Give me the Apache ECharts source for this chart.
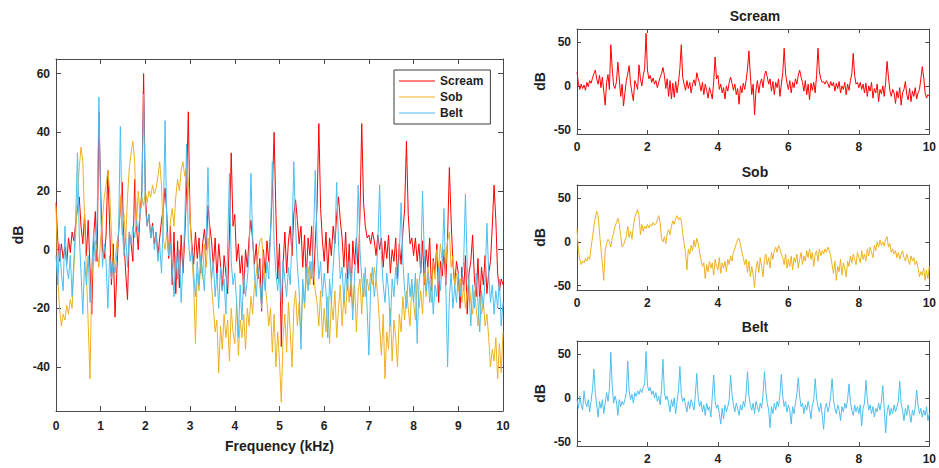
<!DOCTYPE html>
<html>
<head>
<meta charset="utf-8">
<script src="https://cdn.jsdelivr.net/npm/echarts@6/dist/echarts.min.js"></script>
<style>
html,body{margin:0;padding:0;background:#ffffff;}
#chart{width:939px;height:468px;}
</style>
</head>
<body>
<div id="chart"></div>
<script>
// Frequency grid (kHz), one sample every 0.04 kHz from 0 to 10
const freqKHz = Array.from({length: 251}, (_, i) => +(i * 0.04).toFixed(2));

// Spectra in dB (one row per kHz)
const scream = [
  16,3,-4,2,-3, 1,-5,4,-1,6, 3,9,14,18,8, 2,12,-2,10,-6, -22,4,13,-4,47,
  20,0,-3,5,27, 8,-12,2,-23,-8, 6,14,23,3,-8, -17,6,2,-4,24, 8,0,12,20,60,
  18,8,12,4,9, 2,6,-2,4,10, 14,21,12,-3,8, -12,6,-15,3,-13, 5,-8,4,20,47,
  10,2,-5,6,-3, 4,-8,2,7,0, 15,8,3,-6,4, -10,2,-5,-14,-2, -8,-15,5,33,8,
  12,-4,2,-8,-2, -15,0,-6,4,10, 3,-5,2,-10,-3, -21,0,-8,3,-4, 6,20,40,12,-10,
  2,-33,-5,6,-8, 3,8,-2,12,17, 10,2,8,-6,5, -10,4,-2,8,-12, 2,15,43,14,3,
  -4,6,-8,4,-2, 8,2,12,18,10, 4,-6,6,-10,2, -16,3,-5,4,-8, 12,43,16,8,4,
  5,2,6,3,-2, 5,0,4,-6,3, -3,5,-8,0,-4, 4,-10,2,-5,6, 14,37,12,2,4,
  -2,4,-4,2,-8, 3,-12,0,-6,4, -14,-3,-8,2,-18, -4,-9,0,-12,4, 28,10,-5,-12,-4,
  -8,-20,-6,-14,-2, -22,-8,-4,5,-10, -16,-3,-18,-6,-12, -2,-15,-8,-4,8, 22,10,-8,-14,-10, -12
];
const sob = [
  15,-10,-20,-26,-22, -24,-19,-22,-17,-20, -6,5,18,28,35, 30,10,-8,-25,-44, -10,-2,3,0,-6,
  4,10,18,22,27, 20,6,-6,-4,2, 6,18,5,12,3, 18,28,33,37,30, 8,20,12,18,15,
  20,16,20,18,22, 19,21,25,30,22, 4,0,6,-2,10, 14,8,18,24,20, 27,30,25,28,24,
  10,-2,-12,-32,-8, -14,-4,-10,2,-6, 4,-2,-12,-20,-28, -24,-42,-26,-34,-22, -30,-24,-38,-20,-28,
  -32,-18,-36,-24,-30, -22,-34,-20,-26,-16, -22,-12,-8,-2,3, 4,-3,-12,-18,-26, -20,-35,-22,-40,-28,
  -38,-52,-30,-22,-35, -18,-28,-40,-20,-14, -26,-18,-30,-12,-20, -10,-6,-12,-4,-8, -14,-18,-26,-14,-30,
  -20,-28,-16,-32,-18, -24,-14,-30,-20,-12, -26,-16,-22,-10,-18, -8,-20,-12,-28,-14, -10,-22,-8,-16,-10,
  -14,-8,-12,-6,-10, -16,-26,-36,-22,-44, -28,-34,-20,-38,-24, -30,-40,-22,-28,-16, -24,-14,-20,-26,-12,
  -18,-24,-10,-20,-14, -22,-8,-16,-6,-12, -18,-4,-10,0,-6, 2,-4,0,-5,3, 6,-6,-2,-12,-8,
  -14,-10,-18,-12,-20, -14,-10,-18,-22,-14, -20,-26,-16,-22,-18, -26,-22,-30,-40,-34, -38,-30,-44,-32,-42, -28
];
const belt = [
  -2,-12,2,-8,-14, 8,-6,-10,-2,-16, -4,10,33,5,-8, -22,-4,-12,-2,-18, -6,6,-4,10,52,
  14,-6,2,-4,-20, -2,-10,-4,-8,-2, 6,42,8,-2,4, -6,6,2,8,4, 10,6,12,16,53,
  14,8,12,4,8, 0,6,-4,2,-8, 10,44,6,-2,2, -6,-16,-2,-10,0, -18,-4,8,36,4,
  -4,0,-8,-16,-4, -12,-2,-8,-14,4, 28,0,-10,-4,-16, -8,-20,-6,-14,-10, -22,2,26,-4,-12,
  -8,-18,-30,-12,-24, -8,-16,-10,-2,26, 4,-8,-16,-6,-12, -20,-8,-14,-4,-10, 6,30,2,-8,-14,
  -6,-18,-4,-10,-16, -6,-12,4,30,8, -6,-14,-34,-10,-18, -6,-14,-4,-10,4, 27,2,-10,-4,-16,
  -8,-14,-30,-10,-18, -6,4,23,2,-10, -6,-18,-8,-14,-4, -12,-24,-8,-2,22, 0,-10,-16,-6,-20,
  -36,-12,-6,-16,-10, 2,22,-2,-12,-18, -8,-14,-26,-10,-16, -6,-12,-2,16,-4, -14,-20,-8,-16,-10,
  -18,-8,-32,-12,-6, 20,-2,-14,-8,-18, -10,-22,-12,-16,-6, -14,-4,14,-12,-40, -16,-8,-20,-12,-18,
  -8,-16,-10,-4,19, -6,-14,-26,-12,-20, -8,-18,-28,-14,-20, -10,9,-8,-18,-12, -22,-14,-20,-10,-26, -18
];

const seriesNames = ['Scream', 'Sob', 'Belt'];
const mainXTicks = [0,1,2,3,4,5,6,7,8,9,10];
const mainYTicks = [-40,-20,0,20,40,60];
const smallXTicks = [0,2,4,6,8,10];
const beltXLabels = [2,4,6,8,10];
const smallYTicks = [-50,0,50];
const yRange = [-55, 65];

const COLORS = ['#ff0000', '#edb120', '#4dbeee'];
const AX = '#4a4a4a';
const TXT = '#1e1e1e';
const FONT = '"Liberation Sans", Arial, sans-serif';
const lbl = {color: TXT, fontWeight: 'bold', fontSize: 12, fontFamily: FONT};
const nameStyle = {color: TXT, fontWeight: 'bold', fontSize: 14, fontFamily: FONT};

function xPair(g, ticks, labels, tickLen, margin, name) {
  const line = {show: true, onZero: false, lineStyle: {color: AX, width: 1}};
  const tick = {show: true, inside: true, length: tickLen, customValues: ticks, lineStyle: {color: AX, width: 1}};
  return [
    {type: 'value', gridIndex: g, min: 0, max: 10, position: 'bottom',
     axisLine: line, axisTick: tick,
     axisLabel: Object.assign({show: true, margin: margin, customValues: labels}, lbl),
     splitLine: {show: false},
     name: name || '', nameLocation: 'middle', nameGap: 28, nameTextStyle: nameStyle},
    {type: 'value', gridIndex: g, min: 0, max: 10, position: 'top',
     axisLine: line, axisTick: tick, axisLabel: {show: false}, splitLine: {show: false}}
  ];
}
function yPair(g, ticks, tickLen, nameGap) {
  const line = {show: true, onZero: false, lineStyle: {color: AX, width: 1}};
  const tick = {show: true, inside: true, length: tickLen, customValues: ticks, lineStyle: {color: AX, width: 1}};
  return [
    {type: 'value', gridIndex: g, min: yRange[0], max: yRange[1], position: 'left',
     axisLine: line, axisTick: tick,
     axisLabel: Object.assign({show: true, margin: 6, customValues: ticks}, lbl),
     splitLine: {show: false},
     name: 'dB', nameLocation: 'middle', nameGap: nameGap, nameTextStyle: nameStyle},
    {type: 'value', gridIndex: g, min: yRange[0], max: yRange[1], position: 'right',
     axisLine: line, axisTick: tick, axisLabel: {show: false}, splitLine: {show: false}}
  ];
}

const pairs = arr => freqKHz.map((f, i) => [f, arr[i]]);
const allData = [scream, sob, belt];

const grids = [
  {left: 56, top: 59, width: 447, height: 352},
  {left: 577, top: 29, width: 355, height: 105},
  {left: 577, top: 185, width: 355, height: 105},
  {left: 577, top: 341, width: 355, height: 105}
];

const xAxes = [].concat(
  xPair(0, mainXTicks, mainXTicks, 5, 9, 'Frequency (kHz)'),
  xPair(1, smallXTicks, smallXTicks, 4, 7),
  xPair(2, smallXTicks, smallXTicks, 4, 7),
  xPair(3, smallXTicks, beltXLabels, 4, 7)
);
const yAxes = [].concat(
  yPair(0, mainYTicks, 5, 31),
  yPair(1, smallYTicks, 4, 30),
  yPair(2, smallYTicks, 4, 30),
  yPair(3, smallYTicks, 4, 30)
);

const series = [];
seriesNames.forEach((n, k) => {
  series.push({type: 'line', name: n, xAxisIndex: 0, yAxisIndex: 0, data: pairs(allData[k]),
    symbol: 'none', lineStyle: {width: 1, color: COLORS[k]}, itemStyle: {color: COLORS[k]},
    silent: true, animation: false});
});
seriesNames.forEach((n, k) => {
  series.push({type: 'line', name: n, xAxisIndex: 2 * (k + 1), yAxisIndex: 2 * (k + 1), data: pairs(allData[k]),
    symbol: 'none', lineStyle: {width: 1, color: COLORS[k]}, itemStyle: {color: COLORS[k]},
    silent: true, animation: false});
});

const titleTops = [9, 165, 320];
const option = {
  backgroundColor: '#ffffff',
  animation: false,
  title: seriesNames.map((n, k) => ({
    text: n, left: 755, top: titleTops[k], textAlign: 'center', padding: 0,
    textStyle: nameStyle
  })),
  legend: {
    data: seriesNames, orient: 'vertical', left: 394, top: 70,
    icon: 'path://M0,0H36V1.2H0Z', symbolKeepAspect: true,
    itemWidth: 36, itemHeight: 14, itemGap: 4, itemTextGap: 6,
    padding: [5, 7, 5, 5], borderColor: '#3a3a3a', borderWidth: 1, borderRadius: 0,
    backgroundColor: '#ffffff', textStyle: lbl, selectedMode: false
  },
  grid: grids,
  xAxis: xAxes,
  yAxis: yAxes,
  series: series
};

const chart = echarts.init(document.getElementById('chart'), null, {renderer: 'svg'});
chart.setOption(option);
</script>
</body>
</html>
